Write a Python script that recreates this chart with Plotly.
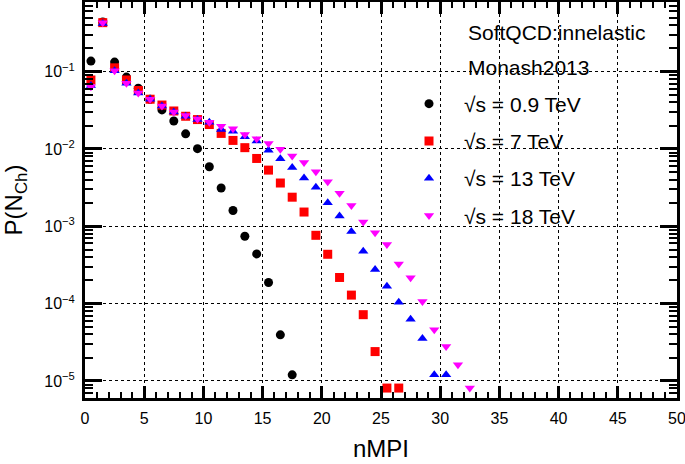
import plotly.graph_objects as go

# bin centres of nMPI
nmpi = [i + 0.5 for i in range(33)]

p_09 = [0.137, 0.44, 0.133, 0.085, 0.061, 0.044, 0.032, 0.023, 0.0157, 0.0101,
        0.0059, 0.00313, 0.0016, 7.45e-4, 4.4e-4, 1.88e-4, 3.95e-5, 1.2e-5]
p_7 = [0.078, 0.43, 0.112, 0.078, 0.057, 0.044, 0.037, 0.031, 0.0265, 0.024,
       0.0207, 0.0159, 0.0129, 0.0104, 0.00754, 0.00533, 0.00363, 0.00238, 0.00153, 7.65e-4,
       4.35e-4, 2.18e-4, 1.29e-4, 7.2e-5, 2.4e-5, 8.1e-6, 8.1e-6]
p_13 = [0.066, 0.42, 0.103, 0.071, 0.053, 0.044, 0.036, 0.030, 0.0265, 0.024,
        0.0222, 0.0179, 0.0170, 0.0144, 0.0127, 0.0096, 0.00748, 0.00578, 0.00421, 0.0032,
        0.00201, 0.00136, 8.6e-4, 4.75e-4, 2.76e-4, 1.68e-4, 1.04e-4, 6.3e-5, 3.55e-5, 1.2e-5,
        1.2e-5]
p_18 = [0.064, 0.43, 0.103, 0.071, 0.053, 0.044, 0.036, 0.030, 0.027, 0.0245,
        0.0222, 0.0197, 0.0183, 0.0154, 0.0136, 0.0118, 0.0099, 0.0081, 0.0067, 0.00507,
        0.00378, 0.00268, 0.00186, 0.00114, 8.25e-4, 5.8e-4, 3.25e-4, 2.17e-4, 1.07e-4, 4.6e-5,
        2.8e-5, 1.62e-5, 8.1e-6]

series = [
    ("√s = 0.9 TeV", p_09, "black", "circle"),
    ("√s = 7 TeV", p_7, "#ff0000", "square"),
    ("√s = 13 TeV", p_13, "#0000ff", "triangle-up"),
    ("√s = 18 TeV", p_18, "#ff00ff", "triangle-down"),
]

FONT = "Liberation Sans, Arial, sans-serif"

W, H = 685, 464
L, R, T, B = 85, 8, 2, 66
plot_w = W - L - R
plot_h = H - T - B


def px(xs):
    return (xs - L) / plot_w


def py(ys):
    return 1 - (ys - T) / plot_h


fig = go.Figure()
for i, (name, vals, col, sym) in enumerate(series):
    fig.add_trace(go.Scatter(
        x=nmpi[:len(vals)], y=vals, mode="markers", name=name,
        legendgroup=str(i),
        marker=dict(color=col, symbol=sym, size=9, line=dict(width=0)),
    ))

# y ticks: decades labelled, 2..9 as minor
decades = [-5, -4, -3, -2, -1]
ymajor = [10.0 ** d for d in decades]
ytext = ["10<sup>−%d</sup>" % (-d) for d in decades]
yminor = [k * 10.0 ** d for d in range(-6, 0) for k in range(2, 10)]

fig.update_xaxes(
    range=[0, 50], dtick=5, tick0=0,
    ticks="inside", ticklen=12, tickwidth=2.5, tickcolor="black",
    minor=dict(ticks="inside", dtick=1, ticklen=6, tickwidth=2, tickcolor="black",
               showgrid=False),
    showline=True, linewidth=3, linecolor="black", mirror="allticks",
    showgrid=True, gridcolor="black", gridwidth=1, griddash="dot",
    zeroline=False, ticklabelstandoff=4, ticklabeloverflow="allow",
    tickfont=dict(size=16, color="black", family=FONT),
    title=dict(text="nMPI", font=dict(size=24, color="black", family=FONT), standoff=14),
)
fig.update_yaxes(
    type="log", range=[-5.22, -0.0995],
    tickvals=ymajor, ticktext=ytext,
    ticks="inside", ticklen=17, tickwidth=2.5, tickcolor="black",
    minor=dict(ticks="inside", tickvals=yminor, ticklen=8, tickwidth=2, tickcolor="black",
               showgrid=False),
    showline=True, linewidth=3, linecolor="black", mirror="allticks",
    showgrid=True, gridcolor="black", gridwidth=1, griddash="dot",
    zeroline=False, ticklabelstandoff=4, ticklabeloverflow="allow",
    tickfont=dict(size=16, color="black", family=FONT),
    title=dict(text="P(N<sub>Ch</sub>)", font=dict(size=24, color="black", family=FONT),
               standoff=22),
)

for txt, yy in [("SoftQCD:innelastic", 32), ("Monash2013", 68)]:
    fig.add_annotation(
        text=txt, xref="paper", yref="paper", x=px(466), y=py(yy),
        xanchor="left", yanchor="middle", showarrow=False,
        font=dict(size=21, color="black", family=FONT),
    )

fig.update_layout(
    width=W, height=H,
    margin=dict(l=L, r=R, t=T, b=B, autoexpand=False),
    plot_bgcolor="white", paper_bgcolor="white",
    font=dict(family=FONT, color="black"),
    showlegend=True,
    legend=dict(
        x=px(394), y=py(83.5), xanchor="left", yanchor="top",
        bgcolor="rgba(0,0,0,0)", borderwidth=0,
        font=dict(size=21, color="black", family=FONT),
        itemwidth=60, tracegroupgap=7,
    ),
)

# drop the default 8px page margin so the figure fills the window exactly
fig.write_html("out.html", config={"displayModeBar": False},
               post_script="document.body.style.margin = '0';")
